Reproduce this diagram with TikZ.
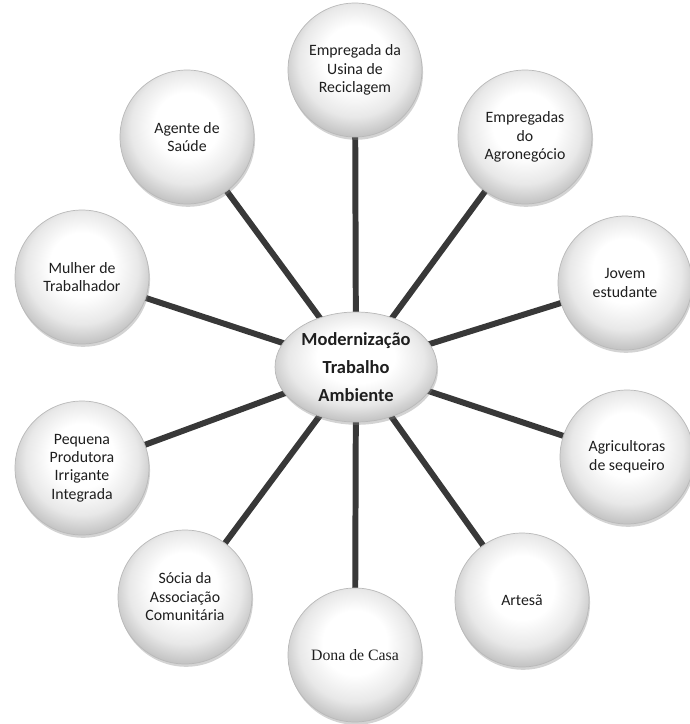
\documentclass[tikz,border=0pt]{standalone}
\usepackage{fontspec}
\setmainfont{Carlito}
\newfontfamily\timesface{Liberation Serif}
\usetikzlibrary{shapes.geometric,shadows,backgrounds}
\pgfdeclareradialshading{button}{\pgfpoint{0bp}{6bp}}{%
  color(0bp)=(white); color(12bp)=(white); color(21bp)=(gray!18);
  color(27bp)=(gray!45); color(33bp)=(gray!60); color(50bp)=(gray!60)}
\definecolor{spoke}{HTML}{383838}
\definecolor{ink}{HTML}{1E1E1E}

\begin{document}
\begin{tikzpicture}[x=0.02cm, y=-0.02cm,
    actor/.style={circle, draw=gray!55, line width=0.4pt, shading=button,
      minimum size=2.68cm, inner sep=0pt, align=center, text=ink,
      font=\fontsize{9}{10.5}\selectfont,
      drop shadow={shadow xshift=0.6pt, shadow yshift=-1.6pt, opacity=0.35}},
    hub/.style={ellipse, draw=gray!55, line width=0.4pt, shading=button,
      minimum width=3.24cm, minimum height=2.2cm, inner sep=0pt, align=center,
      text=ink, font=\bfseries\fontsize{10.5}{16}\selectfont,
      drop shadow={shadow xshift=0.6pt, shadow yshift=-1.6pt, opacity=0.35}},
    spokeline/.style={spoke, line width=3.4pt}
]
    \useasboundingbox (0,0) rectangle (690,724);

    % Central theme
    \node[hub] (centro) at (356,367) {Moderniza\c{c}\~ao\\Trabalho\\Ambiente};

    % The ten women around it
    \node[actor] (usina) at (355,70) {Empregada da\\Usina de\\Reciclagem};
    \node[actor] (agro) at (525,137) {Empregadas\\do\\Agroneg\'ocio};
    \node[actor] (jovem) at (625,283) {Jovem\\estudante};
    \node[actor] (sequeiro) at (627,457) {Agricultoras\\de sequeiro};
    \node[actor] (artesa) at (522,600) {Artes\~a};
    \node[actor, font=\timesface\fontsize{9}{10.5}\selectfont] (dona) at (355,655) {Dona de Casa};
    \node[actor] (socia) at (185,597) {S\'ocia da\\Associa\c{c}\~ao\\Comunit\'aria};
    \node[actor] (produtora) at (82,468) {Pequena\\Produtora\\Irrigante\\Integrada};
    \node[actor] (mulher) at (82,277) {Mulher de\\Trabalhador};
    \node[actor] (agente) at (187,137) {Agente de\\Sa\'ude};

    % Spokes
    \begin{scope}[on background layer]
        \foreach \n in {usina,agro,jovem,sequeiro,artesa,dona,socia,produtora,mulher,agente}
            \draw[spokeline] (centro.center) -- (\n.center);
    \end{scope}
\end{tikzpicture}
\end{document}
